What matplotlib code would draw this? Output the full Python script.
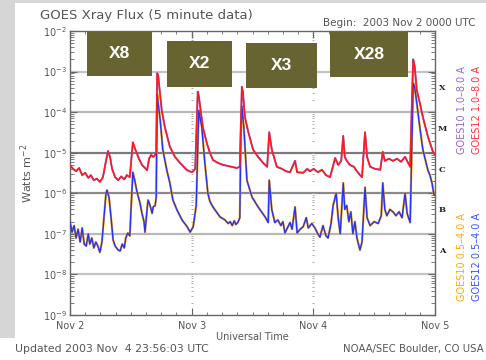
import matplotlib
matplotlib.use("Agg")
import matplotlib.pyplot as plt
from matplotlib.patches import Rectangle
import numpy as np

# ---------------- data ----------------
# hours since 2003 Nov 2 00:00 UTC
red_hours = [0.0, 0.6, 1.2, 1.8, 2.4, 3.0, 3.6, 4.1, 4.7, 5.3, 5.9, 6.5, 7.1, 7.5, 7.9, 8.3, 8.9, 9.5,
             10.1, 10.7, 11.2, 11.8, 12.0, 12.4, 13.0, 13.6, 14.2, 14.8, 15.2, 15.6, 16.0, 16.4, 16.8,
             17.0, 17.2, 17.4, 17.8, 18.1, 18.7, 19.7, 20.7, 21.7, 23.1, 24.1, 24.7, 25.2, 25.4, 26.2,
             27.0, 27.6, 28.2, 29.2, 30.2, 31.2, 32.2, 32.9, 33.5, 33.9, 34.1, 34.5, 35.1, 36.1, 37.1,
             38.1, 38.9, 39.3, 39.8, 40.8, 41.8, 42.6, 43.4, 44.4, 44.8, 46.0, 46.8, 47.3, 48.1, 48.9,
             49.7, 50.5, 51.3, 52.3, 52.9, 53.5, 53.9, 54.2, 54.6, 55.2, 56.0, 56.6, 57.2, 57.6, 58.2,
             58.6, 59.2, 60.2, 61.2, 61.7, 62.1, 62.9, 63.7, 64.5, 65.3, 66.1, 66.7, 67.1, 67.5, 67.7,
             68.0, 68.4, 69.0, 69.6, 70.6, 71.6, 72.0]
red_flux = [5.0e-6, 4.0e-6, 3.5e-6, 4.2e-6, 2.8e-6, 3.2e-6, 2.4e-6, 2.8e-6, 2.1e-6, 2.3e-6, 1.9e-6,
            2.5e-6, 6.3e-6, 1.1e-5, 7.9e-6, 4.0e-6, 2.5e-6, 2.1e-6, 2.6e-6, 2.2e-6, 2.8e-6, 2.5e-6,
            5.0e-6, 1.8e-5, 1.1e-5, 7.1e-6, 5.0e-6, 4.2e-6, 3.7e-6, 7.1e-6, 8.9e-6, 7.9e-6, 8.7e-6,
            1.0e-5, 9.1e-4, 7.9e-4, 2.5e-4, 1.1e-4, 4.3e-5, 1.4e-5, 7.9e-6, 5.6e-6, 3.7e-6, 3.3e-6,
            4.0e-6, 3.2e-4, 2.5e-4, 4.3e-5, 1.7e-5, 1.0e-5, 6.6e-6, 5.6e-6, 5.0e-6, 4.7e-6, 4.4e-6,
            4.2e-6, 4.5e-6, 4.2e-4, 3.2e-4, 7.6e-5, 3.5e-5, 1.2e-5, 7.9e-6, 5.6e-6, 4.5e-6, 3.2e-5,
            1.2e-5, 4.5e-6, 4.0e-6, 3.5e-6, 3.3e-6, 6.3e-6, 3.3e-6, 3.2e-6, 4.0e-6, 3.5e-6, 4.0e-6,
            3.3e-6, 3.8e-6, 2.8e-6, 2.5e-6, 7.4e-6, 5.0e-6, 6.3e-6, 2.6e-5, 7.9e-6, 6.3e-6, 5.0e-6,
            4.5e-6, 3.5e-6, 2.8e-6, 2.5e-6, 3.2e-5, 7.9e-6, 4.5e-6, 4.0e-6, 3.8e-6, 1.05e-5, 6.3e-6,
            7.1e-6, 6.3e-6, 7.1e-6, 6.0e-6, 7.9e-6, 5.6e-6, 4.5e-6, 3.2e-4, 2.0e-3, 1.3e-3, 3.5e-4,
            1.7e-4, 7.6e-5, 2.5e-5, 1.05e-5, 8.9e-6]

blue_hours = [0.0, 0.4, 0.8, 1.2, 1.6, 2.0, 2.4, 2.8, 3.2, 3.6, 3.9, 4.3, 4.7, 5.1, 5.5, 5.9, 6.3, 6.7,
              7.1, 7.3, 7.7, 8.1, 8.5, 8.9, 9.5, 9.9, 10.3, 10.7, 11.0, 11.4, 11.8, 12.0, 12.4, 12.8,
              13.2, 13.8, 14.2, 14.6, 14.8, 15.2, 15.4, 15.8, 16.2, 16.4, 16.8, 17.0, 17.2, 17.4, 17.8,
              18.3, 19.1, 19.7, 20.3, 21.1, 22.1, 23.1, 23.7, 24.3, 24.9, 25.4, 26.0, 26.6, 27.2, 27.6,
              28.2, 29.6, 30.6, 31.2, 31.6, 32.0, 32.4, 32.7, 33.1, 33.5, 33.7, 33.9, 34.3, 34.9, 35.9,
              37.1, 38.5, 39.1, 39.3, 39.8, 40.4, 41.0, 41.6, 42.0, 42.4, 43.4, 43.8, 44.4, 44.8, 45.4,
              46.0, 46.6, 47.0, 47.7, 48.3, 48.9, 49.3, 49.9, 50.5, 50.9, 51.5, 51.9, 52.5, 52.9, 53.3,
              53.9, 54.2, 54.6, 55.0, 55.4, 55.8, 56.2, 56.6, 57.2, 57.6, 58.2, 58.6, 59.2, 60.0, 60.8,
              61.4, 61.7, 62.1, 62.5, 63.1, 63.7, 64.3, 64.9, 65.5, 66.1, 66.5, 67.1, 67.5, 67.7, 68.0,
              68.4, 69.0, 69.6, 70.6, 71.0, 71.4, 71.8, 72.0]
blue_flux = [1.95e-7, 1.1e-7, 1.6e-7, 7.9e-8, 1.3e-7, 6.3e-8, 1.4e-7, 5.6e-8, 5.0e-8, 1.0e-7, 5.6e-8,
             7.9e-8, 4.5e-8, 6.3e-8, 5.0e-8, 3.5e-8, 6.3e-8, 2.5e-7, 1.0e-6, 1.2e-6, 7.9e-7, 2.5e-7,
             7.1e-8, 5.0e-8, 4.0e-8, 3.8e-8, 5.6e-8, 4.5e-8, 7.9e-8, 1.05e-7, 8.9e-8, 3.2e-7, 3.3e-6,
             2.0e-6, 1.1e-6, 5.8e-7, 3.2e-7, 2.0e-7, 1.1e-7, 4.0e-7, 6.8e-7, 5.0e-7, 3.2e-7, 4.6e-7,
             5.0e-7, 7.9e-7, 2.8e-4, 1.6e-4, 6.3e-5, 1.2e-5, 3.7e-6, 1.8e-6, 6.8e-7, 3.9e-7, 2.2e-7,
             1.5e-7, 1.1e-7, 1.5e-7, 5.0e-7, 1.1e-4, 4.3e-5, 5.6e-6, 1.0e-6, 6.3e-7, 4.6e-7, 2.6e-7,
             2.2e-7, 1.8e-7, 2.0e-7, 1.6e-7, 2.1e-7, 1.7e-7, 1.9e-7, 2.5e-7, 3.2e-5, 1.4e-4, 4.0e-5,
             2.1e-6, 8.1e-7, 4.6e-7, 2.6e-7, 1.9e-7, 2.1e-6, 4.0e-7, 1.9e-7, 2.2e-7, 1.6e-7, 2.0e-7,
             1.05e-7, 1.9e-7, 1.3e-7, 4.6e-7, 1.05e-7, 1.3e-7, 1.5e-7, 2.5e-7, 1.4e-7, 1.8e-7, 1.4e-7,
             1.0e-7, 8.3e-8, 1.6e-7, 8.9e-8, 7.9e-8, 1.8e-7, 5.0e-7, 1.0e-6, 2.5e-7, 1.0e-7, 1.8e-6,
             4.0e-7, 5.0e-7, 2.0e-7, 3.5e-7, 1.0e-7, 2.0e-7, 7.9e-8, 4.0e-8, 6.3e-8, 1.4e-6, 2.5e-7,
             1.6e-7, 2.0e-7, 1.8e-7, 2.8e-7, 1.8e-6, 4.0e-7, 2.8e-7, 4.0e-7, 3.5e-7, 2.8e-7, 3.5e-7,
             2.5e-7, 1.0e-6, 3.2e-7, 1.9e-7, 3.2e-5, 5.2e-4, 4.0e-4, 1.7e-4, 4.3e-5, 1.2e-5, 3.7e-6,
             2.8e-6, 1.8e-6, 9.1e-7, 8.9e-7]

day_ticks = [0, 24, 48, 72]
day_labels = ["Nov 2", "Nov 3", "Nov 4", "Nov 5"]
class_letters = ["A", "B", "C", "M", "X"]
class_pos = [10**-7.42, 10**-6.42, 10**-5.42, 10**-4.42, 10**-3.40]
flare_labels = ["X8", "X2", "X3", "X28"]
legend_texts = ["GOES10 1.0\u20138.0 A", "GOES12 1.0\u20138.0 A",
                "GOES10 0.5\u20134.0 A", "GOES12 0.5\u20134.0 A"]

# ---------------- figure ----------------
W, H = 486, 360
fig = plt.figure(figsize=(W / 100, H / 100), dpi=100)
fig.patch.set_facecolor("white")
plt.rcParams["font.family"] = ["DejaVu Sans"]

def fx(px):
    return px / W

def fy(py):
    return 1 - py / H

# slide-like gray borders
fig.add_artist(Rectangle((0, fy(338)), fx(15), fy(0) - fy(338), transform=fig.transFigure,
                         facecolor="#d6d6d6", edgecolor="none", zorder=0))
fig.add_artist(Rectangle((0, fy(3)), 1, fy(0) - fy(3), transform=fig.transFigure,
                         facecolor="#d6d6d6", edgecolor="none", zorder=0))

ax = fig.add_axes([fx(70), fy(315), fx(435) - fx(70), fy(31) - fy(315)])
ax.set_yscale("log")
ax.set_xlim(0, 72)
ax.set_ylim(1e-9, 1e-2)

# horizontal class lines
grid_cols = {1e-8: "#c4c4c4", 1e-7: "#b8b8b8", 1e-6: "#8a8a8a", 1e-5: "#7a7a7a",
             1e-4: "#b8b8b8", 1e-3: "#c4c4c4"}
for yv, c in grid_cols.items():
    ax.axhline(yv, color=c, lw=1.6, zorder=1)

# dotted day-boundary markers (log minor marks)
marks = [k * 10.0**n for n in range(-9, -2) for k in range(1, 10)]
for d in day_ticks[1:3]:
    ax.scatter([d] * len(marks), marks, marker="_", s=4, color="#aaaaaa", lw=0.7, zorder=1)

tgray = "#555555"
ax.plot(blue_hours, blue_flux, color="#ffaa00", lw=1.6, zorder=2)
ax.plot(blue_hours, blue_flux, color="#2233ff", lw=1.0, zorder=3)
ax.plot(red_hours, red_flux, color="#9966cc", lw=1.4, zorder=2)
ax.plot(red_hours, red_flux, color="#ff1a1a", lw=1.1, zorder=4)

ax.set_xticks(day_ticks)
ax.set_xticklabels(day_labels)
ax.set_xticks(np.arange(0, 73, 3), minor=True)
ax.tick_params(axis="both", which="both", direction="in", top=True, right=True,
               colors="#666666", labelcolor=tgray, labelsize=7)
ax.tick_params(axis="x", which="major", length=5, pad=4)
ax.tick_params(axis="x", which="minor", length=2.5)
ax.tick_params(axis="y", which="major", length=5, pad=2)
ax.tick_params(axis="y", which="minor", length=3)
for sp in ax.spines.values():
    sp.set_color("#666666")
    sp.set_linewidth(1.0)

ax.set_ylabel("Watts m$^{-2}$", fontsize=8, color=tgray, labelpad=6)
ax.set_xlabel("Universal Time", fontsize=7, color=tgray, labelpad=1)

for lab, yv in zip(class_letters, class_pos):
    ax.text(1.019, yv, lab, transform=ax.get_yaxis_transform(), fontsize=6,
            fontweight="bold", family="DejaVu Serif", va="center", ha="center", color="#222222")

# rotated legend
leg_cols = ["#9966cc", "#ff3333", "#ffaa00", "#3355ff"]
leg_x = [462, 477, 462, 477]
leg_y = [110, 110, 257, 257]
for t, c, x, y in zip(legend_texts, leg_cols, leg_x, leg_y):
    fig.text(fx(x), fy(y), t, rotation=90, color=c, fontsize=7, ha="center", va="center")

fig.text(fx(40), fy(16), "GOES Xray Flux (5 minute data)", fontsize=9.5, color=tgray,
         ha="left", va="center")
fig.text(fx(323), fy(23), "Begin:  2003 Nov 2 0000 UTC", fontsize=7.5, color=tgray,
         ha="left", va="center")
fig.text(fx(15), fy(349), "Updated 2003 Nov  4 23:56:03 UTC", fontsize=7.8, color=tgray,
         ha="left", va="center")
fig.text(fx(343), fy(349), "NOAA/SEC Boulder, CO USA", fontsize=7.3, color=tgray,
         ha="left", va="center")

# flare label boxes
box_px = [(87, 32, 152, 76), (167, 41, 232, 87), (246, 43, 317, 88), (330, 32, 408, 77)]
for lab, (x0, y0, x1, y1) in zip(flare_labels, box_px):
    fig.add_artist(Rectangle((fx(x0), fy(y1)), fx(x1) - fx(x0), fy(y0) - fy(y1),
                             transform=fig.transFigure, facecolor="#676432",
                             edgecolor="none", zorder=10))
    fig.text((fx(x0) + fx(x1)) / 2, (fy(y0) + fy(y1)) / 2, lab, color="white",
             fontsize=12.5, fontweight="bold", family="Liberation Sans",
             ha="center", va="center", zorder=11)

fig.savefig("out.png", dpi=100)
